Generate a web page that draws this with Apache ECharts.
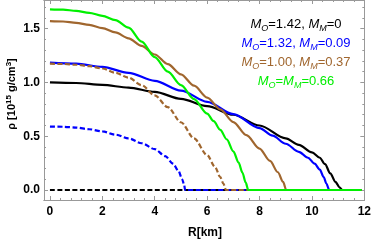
<!DOCTYPE html>
<html><head><meta charset="utf-8">
<script src="https://cdn.jsdelivr.net/npm/echarts/dist/echarts.min.js"></script>
<style>html,body{margin:0;padding:0;background:#fff}#c{width:374px;height:242px}</style>
</head><body><div id="c"></div>
<script>
// ---- data (R in km, rho in 10^15 g/cm^3) ----
const blackSolidR = [0,1,2,3,4,5,6,7,8,9,9.5,10,10.3,10.5,10.7,10.9,11.05,11.16,11.9];
const blackSolidRho = [1.0,0.995,0.978,0.952,0.912,0.848,0.78,0.70,0.60,0.48,0.42,0.35,0.30,0.24,0.155,0.075,0.025,0,0];
const blackDashR = [0,11.9];
const blackDashRho = [0,0];
const blueSolidR = [0,1,2,3,4,5,6,7,8,8.5,9,9.5,9.85,10.1,10.3,10.45,10.55,10.66,11.9];
const blueSolidRho = [1.185,1.175,1.145,1.09,1.015,0.925,0.82,0.705,0.575,0.505,0.43,0.355,0.30,0.245,0.19,0.12,0.06,0,0];
const blueDashR = [0,0.5,1,1.5,2,2.5,3,3.5,4,4.4,4.7,4.9,5.05,5.12,5.16,11.9];
const blueDashRho = [0.59,0.588,0.58,0.565,0.545,0.515,0.48,0.435,0.38,0.315,0.245,0.18,0.10,0.05,0,0];
const brownSolidR = [0,0.5,1,1.5,2,2.5,3,3.5,4,4.5,5,5.5,6,6.5,7,7.5,8,8.4,8.7,8.9,9.02,11.9];
const brownSolidRho = [1.57,1.567,1.555,1.535,1.505,1.465,1.41,1.34,1.26,1.17,1.075,0.97,0.86,0.75,0.632,0.51,0.385,0.27,0.165,0.075,0,0];
const brownDashR = [0,0.5,1,1.5,2,2.5,3,3.5,4,4.5,5,5.5,6,6.3,6.5,6.62,6.72,11.9];
const brownDashRho = [1.175,1.172,1.165,1.152,1.13,1.09,1.045,0.975,0.88,0.77,0.63,0.48,0.325,0.215,0.12,0.06,0,0];
const greenR = [0,0.5,1,1.5,2,2.5,3,3.5,4,4.5,5,5.5,6,6.25,6.5,6.75,7,7.2,7.35,7.47,7.57,11.9];
const greenRho = [1.68,1.677,1.666,1.648,1.62,1.58,1.51,1.38,1.235,1.10,0.975,0.845,0.71,0.64,0.56,0.47,0.36,0.255,0.16,0.07,0,0];

const xMajor = [0,2,4,6,8,10,12];
const xMinor = [0.4,0.8,1.2,1.6,2.4,2.8,3.2,3.6,4.4,4.8,5.2,5.6,6.4,6.8,7.2,7.6,8.4,8.8,9.2,9.6,10.4,10.8,11.2,11.6];
const yMajor = [0,0.5,1.0,1.5];
const yMinor = [0.1,0.2,0.3,0.4,0.6,0.7,0.8,0.9,1.1,1.2,1.3,1.4,1.6,1.7];

const legendLines = [
  {mo:'=1.42, ', mm:'=0', color:'#000000', eq:false},
  {mo:'=1.32, ', mm:'=0.09', color:'#0000ff', eq:false},
  {mo:'=1.00, ', mm:'=0.37', color:'#a0662e', eq:false},
  {mo:'=', mm:'=0.66', color:'#00ee00', eq:true}
];

const BLACK='#000000', BLUE='#0000ff', BROWN='#a0662e', GREEN='#00f000';
const AX='#999999';

function pairs(xs, ys){ return xs.map((x,i)=>[x, ys[i]]); }

const chart = echarts.init(document.getElementById('c'), null, {renderer:'canvas'});
const XMIN=-0.227, XMAX=12, YMIN=-0.093, YMAX=1.767;

function xAx(pos, vals, len, labels){
  return {type:'value', min:XMIN, max:XMAX, position:pos, gridIndex:0,
    axisLine:{show:true, onZero:false, lineStyle:{color:AX, width:1}},
    axisTick:{show:true, inside:true, length:len, customValues:vals, lineStyle:{color:AX}},
    axisLabel:{show:labels, customValues:vals, margin:6, color:'#000', fontWeight:'bold', fontSize:12, fontFamily:'Liberation Sans'},
    splitLine:{show:false}};
}
function yAx(pos, vals, len, labels){
  return {type:'value', min:YMIN, max:YMAX, position:pos, gridIndex:0,
    axisLine:{show:true, onZero:false, lineStyle:{color:AX, width:1}},
    axisTick:{show:true, inside:true, length:len, customValues:vals, lineStyle:{color:AX}},
    axisLabel:{show:labels, customValues:vals, margin:4, color:'#000', fontWeight:'bold', fontSize:12, fontFamily:'Liberation Sans',
      formatter:v=>Number(v).toFixed(1)},
    splitLine:{show:false}};
}

function ln(name, xs, ys, color, dashed, z){
  return {name, type:'line', xAxisIndex:0, yAxisIndex:0, data:pairs(xs,ys), showSymbol:false, symbol:'none',
    smooth:0.3, smoothMonotone:'x', z:z, animation:false,
    lineStyle:{color, width:2.2, type: dashed ? [5,2.5] : 'solid', cap:'butt'}};
}

const rich = {
  m:{fontStyle:'italic', fontSize:13, fontFamily:'Liberation Sans', lineHeight:17, verticalAlign:'middle'},
  s:{fontStyle:'italic', fontSize:9, fontFamily:'Liberation Sans', lineHeight:17, verticalAlign:'bottom'},
  n:{fontSize:13, fontFamily:'Liberation Sans', lineHeight:17, verticalAlign:'middle'}
};
const legendY=[24,43,62,81];
const graphics = legendLines.map((L,i)=>{
  const r = {};
  for (const k in rich) r[k] = Object.assign({}, rich[k], {color:L.color});
  const txt = L.eq ? '{m|M}{s|O}{n|=}{m|M}{s|M}{n|=0.66}'
                   : '{m|M}{s|O}{n|'+L.mo+'}{m|M}{s|M}{n|'+L.mm+'}';
  return {type:'text', x:296, y:legendY[i], z:100,
    style:{text:txt, rich:r, textAlign:'center', textVerticalAlign:'middle', fill:L.color}};
});
graphics.push({type:'text', x:12, y:94, rotation:Math.PI/2, z:100,
  style:{text:'{b|ρ [10}{p|15}{b| g/cm}{p|3}{b|]}', textAlign:'center', textVerticalAlign:'middle',
    rich:{b:{fontSize:11, fontWeight:'bold', fontFamily:'Liberation Sans', color:'#000', lineHeight:14, verticalAlign:'middle'},
          p:{fontSize:8, fontWeight:'bold', fontFamily:'Liberation Sans', color:'#000', lineHeight:14, verticalAlign:'top'}}}});
graphics.push({type:'text', x:205, y:233, z:100,
  style:{text:'R[km]', fontSize:12, fontWeight:'bold', fontFamily:'Liberation Sans', fill:'#000', textAlign:'center', textVerticalAlign:'middle'}});

chart.setOption({
  animation:false,
  grid:{left:44, right:7, top:0, bottom:42, containLabel:false},
  xAxis:[xAx('bottom', xMajor, 4, true), xAx('bottom', xMinor, 2, false), xAx('top', xMajor, 4, false), xAx('top', xMinor, 2, false)],
  yAxis:[yAx('left', yMajor, 4, true), yAx('left', yMinor, 2, false), yAx('right', yMajor, 4, false), yAx('right', yMinor, 2, false)],
  series:[
    ln('black', blackSolidR, blackSolidRho, BLACK, false, 2),
    ln('blackDash', blackDashR, blackDashRho, BLACK, true, 3),
    ln('blue', blueSolidR, blueSolidRho, BLUE, false, 4),
    ln('blueDash', blueDashR, blueDashRho, BLUE, true, 5),
    ln('brown', brownSolidR, brownSolidRho, BROWN, false, 6),
    ln('brownDash', brownDashR, brownDashRho, BROWN, true, 7),
    ln('green', greenR, greenRho, GREEN, false, 8)
  ],
  graphic:graphics
});
</script></body></html>
